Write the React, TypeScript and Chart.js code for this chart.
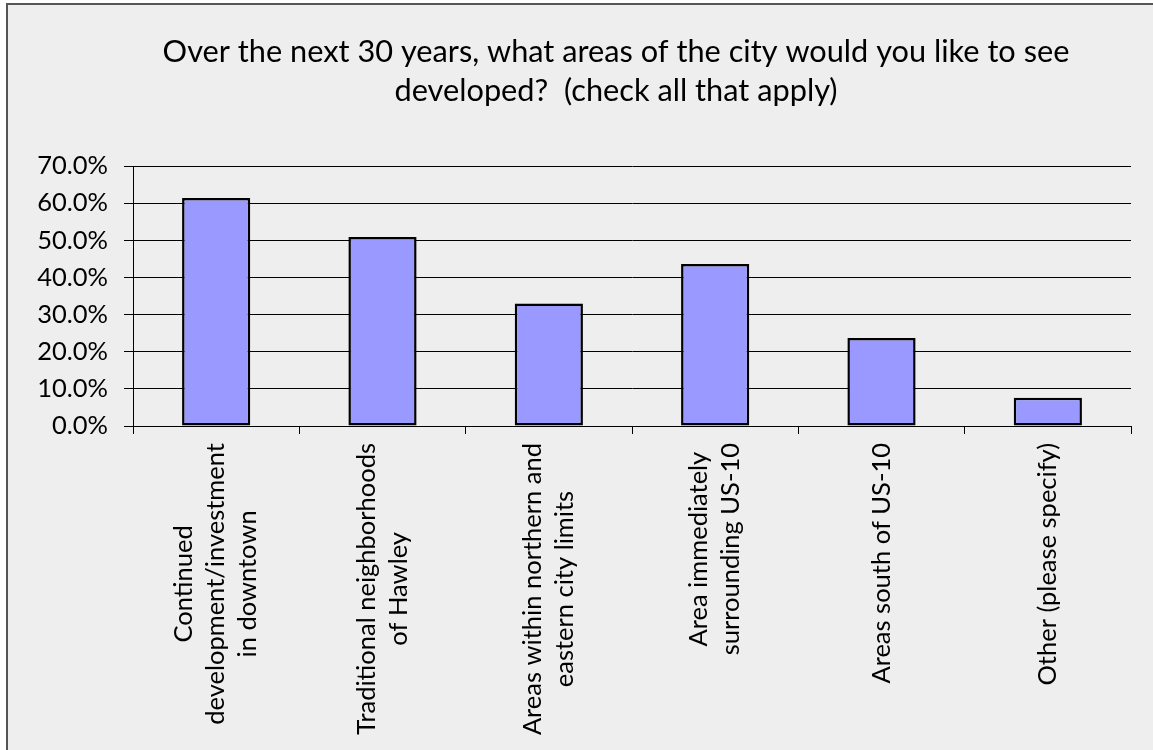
import React, { useEffect, useRef } from "react";
import { Chart, registerables } from "chart.js";

Chart.register(...registerables);

const TITLE_LINES: string[] = [
  "Over the next 30 years, what areas of the city would you like to see",
  "developed?  (check all that apply)",
];

const CATEGORIES: string[][] = [
  ["Continued", "development/investment", "in downtown"],
  ["Traditional neighborhoods", "of Hawley"],
  ["Areas within northern and", "eastern city limits"],
  ["Area immediately", "surrounding US-10"],
  ["Areas south of US-10"],
  ["Other (please specify)"],
];

const VALUES: number[] = [61.4, 50.9, 33.0, 43.6, 23.7, 7.6];

const Y_MIN = 0;
const Y_MAX = 70;
const Y_STEP = 10;

const FONT = "Lato, 'Open Sans', sans-serif";

function fitSize(text: string, target: number): number {
  const c = document.createElement("canvas").getContext("2d") as CanvasRenderingContext2D;
  c.font = `100px ${FONT}`;
  return (100 * target) / c.measureText(text).width;
}

export default function App() {
  const ref = useRef<HTMLCanvasElement | null>(null);

  useEffect(() => {
    if (!ref.current) return;
    const titleSize = fitSize(TITLE_LINES[0], 907);
    const labelSize = fitSize("development/investment", 282);

    const textPlugin = {
      id: "customText",
      afterDraw(chart: any) {
        const ctx: CanvasRenderingContext2D = chart.ctx;
        const xs = chart.scales.x;
        ctx.save();
        ctx.fillStyle = "#000";
        ctx.font = `${titleSize}px ${FONT}`;
        ctx.textAlign = "center";
        ctx.textBaseline = "alphabetic";
        TITLE_LINES.forEach((l, i) => ctx.fillText(l, 616, 62 + i * 38.5));

        ctx.font = `${labelSize}px ${FONT}`;
        CATEGORIES.forEach((lines, i) => {
          const cx = xs.getPixelForValue(i);
          const maxW = Math.max(...lines.map((l) => ctx.measureText(l).width));
          const top = xs.top + 17;
          ctx.save();
          ctx.translate(cx, top + maxW / 2);
          ctx.rotate(-Math.PI / 2);
          ctx.textAlign = "center";
          ctx.textBaseline = "middle";
          lines.forEach((l, j) => {
            ctx.fillText(l, 0, (j - (lines.length - 1) / 2) * 32);
          });
          ctx.restore();
        });
        ctx.restore();
      },
    };

    const chart = new Chart(ref.current, {
      type: "bar",
      data: {
        labels: CATEGORIES.map((l) => l.join(" ")),
        datasets: [
          {
            data: VALUES,
            backgroundColor: "#9999ff",
            borderColor: "#000000",
            borderWidth: 2.5,
            borderSkipped: false,
            barPercentage: 0.41,
            categoryPercentage: 1,
          },
        ],
      },
      options: {
        responsive: false,
        animation: false,
        events: [],
        layout: { padding: { top: 166, right: 22, bottom: 0, left: 0 } },
        plugins: {
          legend: { display: false },
          title: { display: false },
          tooltip: { enabled: false },
        },
        scales: {
          x: {
            afterFit: (s: any) => {
              s.height = 324;
            },
            ticks: { display: false },
            grid: {
              display: true,
              drawOnChartArea: false,
              drawTicks: true,
              tickLength: 8,
              color: "#000",
              offset: true,
            },
            border: { display: true, color: "#000", width: 1 },
          },
          y: {
            min: Y_MIN,
            max: Y_MAX,
            afterFit: (s: any) => {
              s.width = 133;
            },
            ticks: {
              stepSize: Y_STEP,
              padding: 16,
              color: "#000",
              font: { family: FONT, size: labelSize },
              callback: (v: any) => Number(v).toFixed(1) + "%",
            },
            grid: {
              color: "#000",
              lineWidth: 1,
              drawTicks: true,
              tickLength: 9,
            },
            border: { display: true, color: "#000", width: 1 },
          },
        },
      },
      plugins: [textPlugin],
    });
    return () => chart.destroy();
  }, []);

  return (
    <div
      style={{
        position: "fixed",
        left: 0,
        top: 0,
        width: 1153,
        height: 750,
        overflow: "hidden",
        background: "#ffffff",
      }}
    >
      <div
        style={{
          position: "absolute",
          left: 6,
          top: 3,
          width: 1250,
          height: 800,
          background: "#eeeeee",
          border: "2px solid #555555",
          boxSizing: "border-box",
        }}
      />
      <canvas
        ref={ref}
        width={1153}
        height={750}
        style={{ position: "absolute", left: 0, top: 0, display: "block" }}
      />
    </div>
  );
}
